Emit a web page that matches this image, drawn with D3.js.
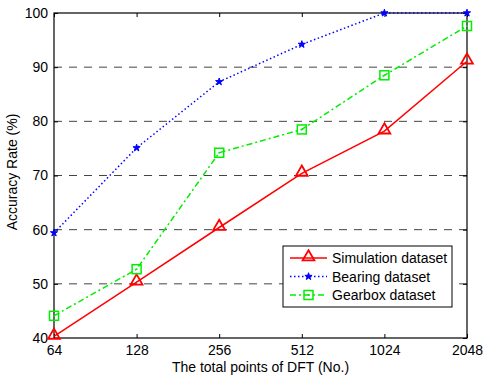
<!DOCTYPE html>
<html>
<head>
<meta charset="utf-8">
<script src="https://cdn.jsdelivr.net/npm/d3@7"></script>
<style>
body{margin:0;background:#fff;}
text{font-family:"Liberation Sans",Arial,sans-serif;}
</style>
</head>
<body>
<svg id="chart"></svg>
<script>
var points=[64,128,256,512,1024,2048];
var yTicks=[40,50,60,70,80,90,100];
var simulation=[40.3,50.3,60.4,70.4,78.2,91.1];
var bearing=[59.4,75.1,87.3,94.2,100,100];
var gearbox=[44.1,52.7,74.2,78.5,88.5,97.6];

var width=483,height=379;
var plotLeft=54,plotRight=467,plotTop=13,plotBottom=338;

var svg=d3.select("#chart")
  .attr("width",width)
  .attr("height",height);

var x=d3.scaleLog().base(2).domain([64,2048]).range([plotLeft,plotRight]);
var y=d3.scaleLinear().domain([40,100]).range([plotBottom,plotTop]);

// dashed grid
svg.selectAll(".grid")
  .data(yTicks.filter(function(d){return d>40&&d<100;}))
  .enter()
  .append("line")
  .attr("x1",plotLeft).attr("x2",plotRight)
  .attr("y1",function(d){return y(d);})
  .attr("y2",function(d){return y(d);})
  .attr("stroke","#444")
  .attr("stroke-width",1)
  .attr("stroke-dasharray","8,7");

// axes (ticks pointing inward)
svg.append("g")
  .attr("transform","translate(0,"+plotBottom+")")
  .call(d3.axisBottom(x).tickValues(points).tickFormat(d3.format("d")).tickSize(-4).tickPadding(7))
  .call(function(g){g.select(".domain").remove();});
svg.append("g")
  .attr("transform","translate(0,"+plotTop+")")
  .call(d3.axisTop(x).tickValues(points).tickFormat("").tickSize(-4))
  .call(function(g){g.select(".domain").remove();});
svg.append("g")
  .attr("transform","translate("+plotLeft+",0)")
  .call(d3.axisLeft(y).tickValues(yTicks).tickSize(-4).tickPadding(6))
  .call(function(g){g.select(".domain").remove();});
svg.append("g")
  .attr("transform","translate("+plotRight+",0)")
  .call(d3.axisRight(y).tickValues(yTicks).tickFormat("").tickSize(-4))
  .call(function(g){g.select(".domain").remove();});

svg.selectAll(".tick text")
  .attr("font-size",14)
  .attr("fill","#000")
  .attr("font-family","Liberation Sans, Arial, sans-serif");
svg.selectAll(".tick line").attr("stroke","#000");

svg.append("rect")
  .attr("x",plotLeft).attr("y",plotTop)
  .attr("width",plotRight-plotLeft).attr("height",plotBottom-plotTop)
  .attr("fill","none")
  .attr("stroke","#000")
  .attr("stroke-width",1.2);

var series=[
  {name:"Simulation dataset",values:simulation,color:"#ff0000",dash:null,marker:"tri"},
  {name:"Bearing dataset",values:bearing,color:"#0000ff",dash:"1.5,2.5",marker:"star"},
  {name:"Gearbox dataset",values:gearbox,color:"#00ee00",dash:"6,3,2,3",marker:"sq"}
];

var line=d3.line()
  .x(function(d,i){return x(points[i]);})
  .y(function(d){return y(d);});

function drawMarker(g,type,color){
  if(type=="tri"){
    g.append("path")
      .attr("d",d3.symbol().type(d3.symbolTriangle).size(60))
      .attr("transform","translate(0,-1)")
      .attr("fill","none").attr("stroke",color).attr("stroke-width",1.8);
  } else if(type=="star"){
    g.append("path")
      .attr("d",d3.symbol().type(d3.symbolStar).size(16))
      .attr("fill",color).attr("stroke",color).attr("stroke-width",1);
  } else {
    g.append("rect")
      .attr("x",-4.5).attr("y",-4.5).attr("width",9).attr("height",9)
      .attr("fill","none").attr("stroke",color).attr("stroke-width",1.5);
    g.append("circle").attr("r",0.9).attr("fill",color);
  }
}

series.forEach(function(s){
  svg.append("path")
    .datum(s.values)
    .attr("d",line)
    .attr("fill","none")
    .attr("stroke",s.color)
    .attr("stroke-width",1.5)
    .attr("stroke-dasharray",s.dash);
  s.values.forEach(function(v,i){
    var g=svg.append("g").attr("transform","translate("+x(points[i])+","+y(v)+")");
    drawMarker(g,s.marker,s.color);
  });
});

// legend
var leg=svg.append("g").attr("transform","translate(283,246)");
leg.append("rect")
  .attr("width",169).attr("height",61)
  .attr("fill","#fff").attr("stroke","#000").attr("stroke-width",1);
series.forEach(function(s,i){
  var yy=12+i*18.5;
  leg.append("line")
    .attr("x1",7).attr("x2",44)
    .attr("y1",yy).attr("y2",yy)
    .attr("stroke",s.color).attr("stroke-width",1.5)
    .attr("stroke-dasharray",s.dash);
  drawMarker(leg.append("g").attr("transform","translate(25.5,"+yy+")"),s.marker,s.color);
  leg.append("text")
    .attr("x",49).attr("y",yy+5)
    .attr("font-size",14)
    .text(s.name);
});

svg.append("text")
  .attr("x",(plotLeft+plotRight)/2).attr("y",372)
  .attr("text-anchor","middle")
  .attr("font-size",14)
  .text("The total points of DFT (No.)");
svg.append("text")
  .attr("transform","translate(17,172) rotate(-90)")
  .attr("text-anchor","middle")
  .attr("font-size",14)
  .text("Accuracy Rate (%)");
</script>
</body>
</html>
